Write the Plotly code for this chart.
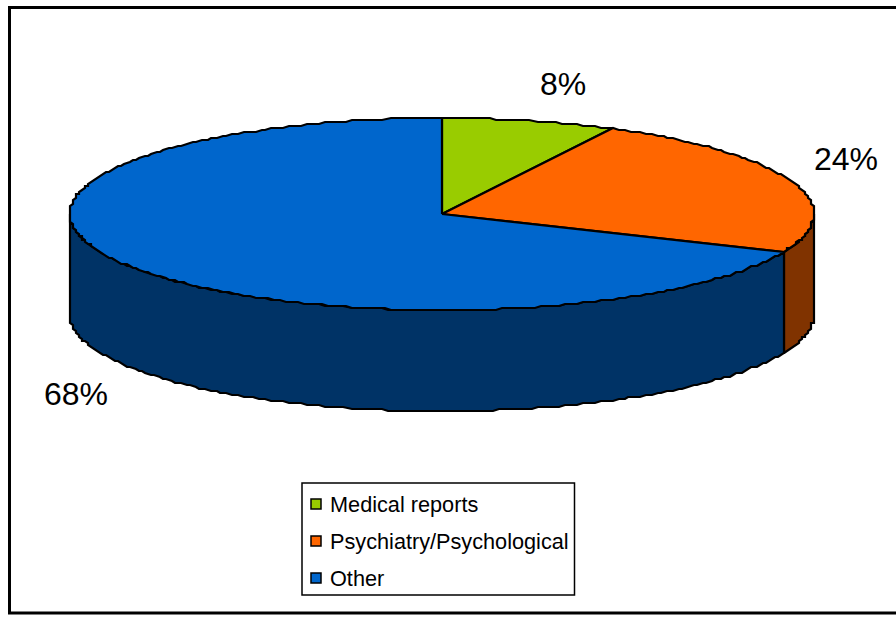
#!/usr/bin/env python3
# -*- coding: utf-8 -*-
"""3D-look pie chart, drawn in pixel coordinates with filled scatter traces"""

import numpy as np
import plotly.graph_objects as go

categories = ['Medical reports', 'Psychiatry/Psychological', 'Other']
shares = [7.6, 23.9, 68.5]
labels = ['8%', '24%', '68%']
top_colors = ['#99CC00', '#FF6600', '#0066CC']
side_colors = ['#4D6600', '#803300', '#003366']

# Pie geometry, in pixels of the page
CX, CY, RX, RY, DEPTH = 442, 214, 372, 96, 101
LABEL_POS = [(563, 84), (846, 159), (76, 394)]
FONT = 'Liberation Sans'
# the rim of the original is slightly rough, snap it to a small grid
STEP_X, STEP_Y = 3, 2


def rim(a, b):
    # a, b are degrees clockwise from 12 o'clock
    t = np.radians(np.linspace(a, b, max(int(abs(b - a)), 2)))
    x = RX * np.sin(t)
    y = RY * np.cos(t)
    x = np.round(x / STEP_X) * STEP_X
    y = np.round(y / STEP_Y) * STEP_Y
    return CX + x, CY - y


fig = go.Figure()

ends = np.cumsum(shares) * 3.6
starts = np.concatenate([[0], ends[:-1]])

# Side walls first: only the front half of the rim (90 to 270 degrees) shows
for a, b, col in zip(starts, ends, side_colors):
    a2, b2 = max(a, 90), min(b, 270)
    if a2 >= b2:
        continue
    x, y = rim(a2, b2)
    fig.add_trace(go.Scatter(
        x=np.concatenate([x, x[::-1], x[:1]]),
        y=np.concatenate([y, y[::-1] + DEPTH, y[:1]]),
        mode='lines', fill='toself', fillcolor=col,
        line=dict(color='black', width=2.2), hoverinfo='skip', showlegend=False))

# Top face wedges
for a, b, col in zip(starts, ends, top_colors):
    x, y = rim(a, b)
    fig.add_trace(go.Scatter(
        x=np.concatenate([[CX], x, [CX]]),
        y=np.concatenate([[CY], y, [CY]]),
        mode='lines', fill='toself', fillcolor=col,
        line=dict(color='black', width=2.2), hoverinfo='skip', showlegend=False))

# Legend swatches
legend_y = [504, 541, 578]
fig.add_trace(go.Scatter(
    x=[316] * 3, y=legend_y, mode='markers',
    marker=dict(symbol='square', size=10, color=top_colors,
                line=dict(color='black', width=1.5)),
    hoverinfo='skip', showlegend=False))

for text, (lx, ly) in zip(labels, LABEL_POS):
    fig.add_annotation(x=lx, y=ly, text=text, showarrow=False,
                       font=dict(family=FONT, size=32, color='black'))

for name, ly in zip(categories, legend_y):
    fig.add_annotation(x=328, y=ly, text=name, showarrow=False, xanchor='left',
                       font=dict(family=FONT, size=21.7, color='black'))

# Chart frame and legend box
fig.add_shape(type='rect', x0=9.5, y0=7.5, x1=905, y1=613, layer='below',
              line=dict(color='black', width=3))
fig.add_shape(type='rect', x0=302, y0=483, x1=574.5, y1=595, layer='below',
              line=dict(color='black', width=1.5))

fig.update_layout(
    width=896, height=617, margin=dict(l=0, r=0, t=0, b=0),
    paper_bgcolor='white', plot_bgcolor='white', showlegend=False,
    xaxis=dict(range=[0, 896], visible=False),
    yaxis=dict(range=[617, 0], visible=False))

# default body margin would push the chart 8px off
fig.write_html("out.html", config={'displayModeBar': False},
               post_script="document.body.style.margin='0';document.body.style.overflow='hidden';")
